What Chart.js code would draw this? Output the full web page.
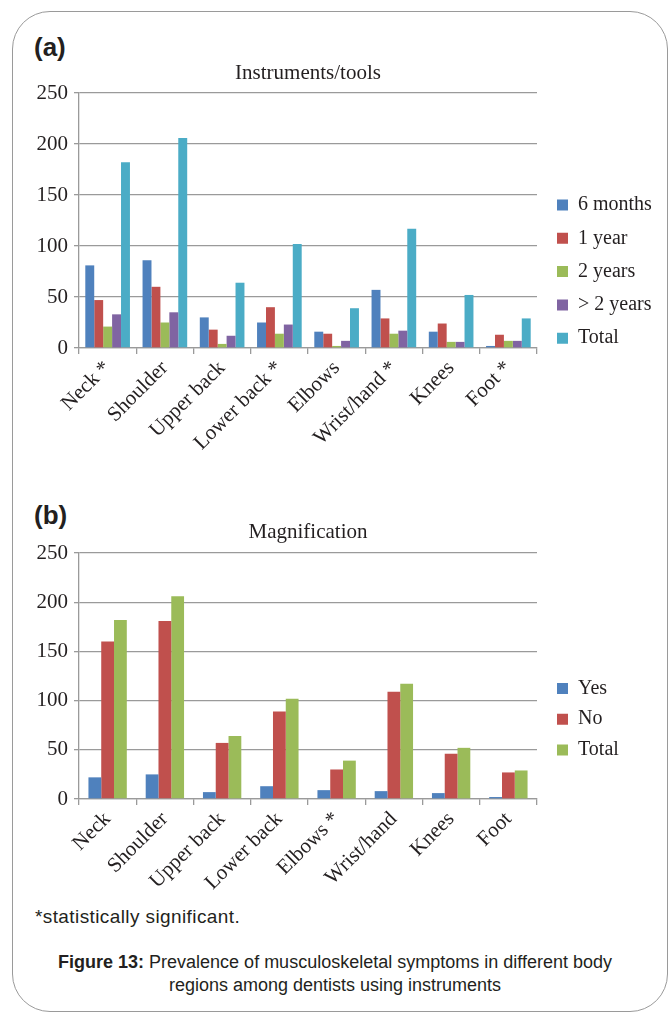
<!DOCTYPE html>
<html>
<head>
<meta charset="utf-8">
<script src="https://cdn.jsdelivr.net/npm/chart.js@4/dist/chart.umd.min.js"></script>
<style>
  html, body { margin: 0; padding: 0; background: #fff; }
  body { width: 670px; height: 1019px; position: relative; overflow: hidden; }
  .card { position: absolute; left: 12px; top: 11px; width: 656px; height: 1001px;
          border: 1.3px solid #9a9a9a; border-radius: 38px; box-sizing: border-box; }
  .panel { position: absolute; left: 34px; font: bold 26px "Liberation Sans", Arial, sans-serif;
           color: #231f20; line-height: 1; }
  .wrap { position: absolute; left: 0; }
  .note { position: absolute; left: 35px; top: 906px; font: 19px "Liberation Sans", Arial, sans-serif;
          letter-spacing: 0.4px; color: #231f20; }
  .cap { position: absolute; left: 0; width: 670px; top: 951px; text-align: center;
         font: 18px "Liberation Sans", Arial, sans-serif; color: #231f20; line-height: 23px; }
</style>
</head>
<body>
<div class="card"></div>
<div class="panel" style="top:34px">(a)</div>
<div class="panel" style="top:502px">(b)</div>
<div class="wrap" style="top:60px"><canvas id="chartA" width="670" height="420"></canvas></div>
<div class="wrap" style="top:520px"><canvas id="chartB" width="670" height="375"></canvas></div>
<div class="note">*statistically significant.</div>
<div class="cap"><b>Figure 13:</b> Prevalence of musculoskeletal symptoms in different body<br>regions among dentists using instruments</div>
<script>
// ---- Data ----
const categoriesA = ['Neck *', 'Shoulder', 'Upper back', 'Lower back *', 'Elbows', 'Wrist/hand *', 'Knees', 'Foot *'];
const sixMonths = [81, 86, 30, 25, 16, 57, 16, 2];
const oneYear = [47, 60, 18, 40, 14, 29, 24, 13];
const twoYears = [21, 25, 4, 14, 2, 14, 6, 7];
const overTwoYears = [33, 35, 12, 23, 7, 17, 6, 7];
const totalA = [182, 206, 64, 102, 39, 117, 52, 29];

const categoriesB = ['Neck', 'Shoulder', 'Upper back', 'Lower back', 'Elbows *', 'Wrist/hand', 'Knees', 'Foot'];
const yesMag = [22, 25, 7, 13, 9, 8, 6, 2];
const noMag = [160, 181, 57, 89, 30, 109, 46, 27];
const totalB = [182, 206, 64, 102, 39, 117, 52, 29];

const yMin = 0, yMax = 250, yStep = 50;

// ---- Styling ----
const COLORS = { blue: '#4F81BD', red: '#C0504D', green: '#9BBB59', purple: '#8064A2', teal: '#4BACC6' };
const SERIF = '"Liberation Serif", "Times New Roman", serif';
const TEXT = '#231f20';
const GRID = '#9a9a9a';

function legendPlacer(boxX, firstRowCenterY, width, fontSize) {
  return {
    id: 'legendPlacer',
    afterInit(chart) {
      const lg = chart.legend;
      const fit = lg.fit;
      lg.fit = function () { fit.call(this); this.width = width; };
    },
    beforeDraw(chart) {
      const lg = chart.legend;
      const pad = lg.options.labels.padding;
      const h = lg.bottom - lg.top;
      lg.left = boxX - pad; lg.right = lg.left + width;
      lg.top = firstRowCenterY - fontSize / 2 - pad; lg.bottom = lg.top + h;
    }
  };
}

function makeChart(id, labels, datasets, opts) {
  return new Chart(document.getElementById(id), {
    type: 'bar',
    data: { labels, datasets },
    options: {
      responsive: false,
      animation: false,
      devicePixelRatio: 1,
      layout: { padding: { top: 0, left: 0, right: 0, bottom: 0 } },
      datasets: { bar: { barPercentage: 1, categoryPercentage: opts.catPct, borderWidth: 0 } },
      scales: {
        x: {
          grid: { display: true, drawOnChartArea: false, drawTicks: true, tickLength: 6, color: GRID, offset: true, lineWidth: 1.3 },
          border: { display: true, color: GRID, width: 1.3 },
          ticks: { autoSkip: false, minRotation: 45, maxRotation: 45, color: TEXT, padding: 2,
                   font: { family: SERIF, size: 21 } },
          afterFit(scale) { scale.height = opts.xHeight; }
        },
        y: {
          min: yMin, max: yMax,
          grid: { color: GRID, lineWidth: 1.3, drawTicks: true, tickLength: 5 },
          border: { display: true, color: GRID, width: 1.3 },
          ticks: { stepSize: yStep, color: TEXT, padding: 6, font: { family: SERIF, size: 21 } },
          afterFit(scale) { scale.width = 79; }
        }
      },
      plugins: {
        title: { display: true, text: opts.title, fullSize: false, color: TEXT,
                 font: { family: SERIF, size: 21, weight: 'normal', lineHeight: 1.2 },
                 padding: { top: opts.titleTop, bottom: 33 - 25.2 - opts.titleTop } },
        legend: { display: true, position: 'right', align: 'start',
                  labels: { boxWidth: 11, boxHeight: 11, padding: opts.legendPad, color: TEXT,
                            font: { family: SERIF, size: 20 } } },
        tooltip: { enabled: false }
      }
    },
    plugins: [legendPlacer(557, opts.legendY, 133, 20)]
  });
}

makeChart('chartA', categoriesA, [
  { label: '6 months', data: sixMonths, backgroundColor: COLORS.blue },
  { label: '1 year', data: oneYear, backgroundColor: COLORS.red },
  { label: '2 years', data: twoYears, backgroundColor: COLORS.green },
  { label: '> 2 years', data: overTwoYears, backgroundColor: COLORS.purple },
  { label: 'Total', data: totalA, backgroundColor: COLORS.teal }
], { title: 'Instruments/tools', titleTop: 1, catPct: 0.78, xHeight: 132, legendPad: 13.3, legendY: 145 });

makeChart('chartB', categoriesB, [
  { label: 'Yes', data: yesMag, backgroundColor: COLORS.blue },
  { label: 'No', data: noMag, backgroundColor: COLORS.red },
  { label: 'Total', data: totalB, backgroundColor: COLORS.green }
], { title: 'Magnification', titleTop: 0, catPct: 0.67, xHeight: 96, legendPad: 10.7, legendY: 168.5 });
</script>
</body>
</html>
